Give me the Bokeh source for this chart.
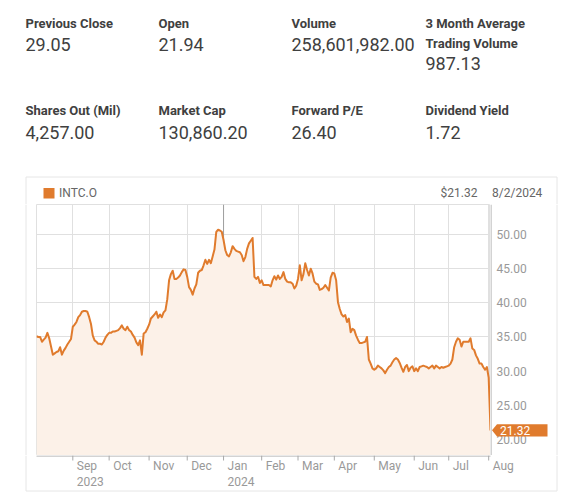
import textwrap
import pandas as pd
from bokeh.plotting import figure
from bokeh.layouts import column, row
from bokeh.models import Range1d, FixedTicker, Grid, Span, ColumnDataSource
from bokeh.core.properties import value
from bokeh.embed import file_html
from bokeh.resources import INLINE

# ---------------- data ----------------
symbol = "INTC.O"
first_day = "2023-08-04"
last_day = "2024-08-02"
market_holidays = ["2023-09-04", "2023-11-23", "2023-12-25", "2024-01-01", "2024-01-15",
                   "2024-02-19", "2024-03-29", "2024-05-27", "2024-06-19", "2024-07-04"]

close_prices = [
    35.1, 35.0, 35.0, 34.3, 34.6, 34.9, 35.6, 34.8, 33.6, 32.4,
    32.6, 32.8, 32.9, 33.5, 32.4, 33.0, 33.4, 33.9, 34.3, 34.7,
    36.5, 36.8, 37.2, 37.9, 38.2, 38.7, 38.8, 38.8, 38.7, 37.9,
    36.9, 35.2, 34.5, 34.3, 34.0, 34.0, 33.9, 34.3, 34.9, 35.3,
    35.6, 35.6, 35.8, 35.8, 35.9, 36.0, 36.3, 36.7, 36.2, 36.0,
    36.5, 36.0, 35.8, 35.3, 34.9, 34.2, 33.8, 34.5, 32.4, 35.5,
    35.7, 36.2, 36.8, 37.7, 38.0, 38.3, 38.7, 37.8, 38.3, 37.9,
    38.6, 38.9, 40.5, 43.3, 44.2, 44.7, 43.5, 43.5, 43.7, 44.0,
    44.5, 44.9, 44.8, 43.8, 42.3, 41.9, 41.2, 42.1, 42.7, 44.4,
    44.7, 44.8, 45.5, 46.3, 45.7, 46.3, 45.8, 46.8, 47.8, 50.4,
    50.7, 50.6, 50.4, 49.2, 47.7, 47.0, 46.8, 47.4, 48.3, 47.9,
    47.6, 47.5, 47.4, 47.0, 46.1, 46.7, 47.9, 48.7, 49.1, 49.5,
    43.8, 43.5, 43.8, 42.9, 43.3, 42.6, 42.6, 42.6, 42.6, 42.4,
    43.3, 43.9, 43.4, 44.0, 43.5, 43.8, 44.5, 43.5, 43.1, 43.0,
    43.0, 42.8, 42.1, 42.5, 43.5, 45.5, 43.3, 44.2, 45.8, 44.8,
    44.0, 45.0, 44.3, 43.1, 42.8, 42.7, 41.9, 42.0, 42.2, 42.6,
    42.2, 41.8, 43.7, 44.4, 44.3, 43.3, 40.1, 39.1, 38.3, 38.0,
    38.2, 37.2, 37.7, 35.7, 36.2, 36.0, 35.2, 34.6, 34.1, 34.1,
    34.2, 34.3, 35.0, 31.7, 31.1, 30.4, 30.2, 30.4, 30.8, 30.6,
    30.4, 30.1, 29.7, 30.2, 30.6, 30.8, 31.3, 31.7, 31.9, 31.7,
    31.2, 30.5, 29.9, 30.6, 30.9, 30.0, 30.5, 30.7, 30.0, 30.4,
    30.0, 30.6, 30.7, 30.8, 30.7, 30.6, 30.4, 30.6, 30.8, 30.4,
    30.8, 30.6, 30.4, 30.6, 30.5, 30.6, 30.7, 30.8, 31.1, 31.7,
    33.5, 34.3, 34.8, 34.6, 33.6, 34.3, 34.3, 34.3, 34.3, 34.8,
    33.3, 33.1, 32.3, 31.8, 31.1, 31.1, 30.6, 30.2, 30.6, 29.05,
    21.32,
]

stat_names = ["Previous Close", "Open", "Volume", "3 Month Average Trading Volume",
              "Shares Out (Mil)", "Market Cap", "Forward P/E", "Dividend Yield"]
stat_values = ["29.05", "21.94", "258,601,982.00", "987.13",
               "4,257.00", "130,860.20", "26.40", "1.72"]

price_ticks = [20, 25, 30, 35, 40, 45, 50]

# ---------------- derived ----------------
dates = pd.bdate_range(first_day, last_day, freq="C", holidays=market_holidays)
n = min(len(dates), len(close_prices))
dates = dates[:n]
prices = close_prices[:n]
day_index = list(range(n))
month_starts = [i for i in day_index if i > 0 and dates[i].month != dates[i - 1].month]
month_names = [dates[m].strftime("%b") for m in month_starts]
year_ticks = [m for k, m in enumerate(month_starts) if k == 0 or dates[m].month == 1]
year_names = [dates[m].strftime("%Y") for m in year_ticks]
jan_ticks = [m for m in month_starts if dates[m].month == 1]
last_val = prices[-1]
last_date = dates[-1]

# ---------------- style / layout ----------------
ORANGE = "#e07b2d"
FILL = "#fcf1e8"
GRID = "#e0e0e0"
AXIS = "#a8a8a8"
TICKTXT = "#999999"
DARK = "#404040"
HEAD = "#666666"
PANEL = "#e6e6e6"
FONT = "Roboto"

W = 560
FL, FT, FR, FB = 36, 204, 490, 455      # plot frame, page pixels
BOT_H = 40
Y0, Y1 = 17.64, 54.4
PANEL_L, PANEL_T, PANEL_R, PANEL_B = 25.5, 176.5, 556.5, 490.5


def blank(w, h, xr, yr):
    f = figure(width=w, height=h, x_range=xr, y_range=yr, output_backend="svg",
               toolbar_location=None, x_axis_location=None, y_axis_location=None,
               min_border=0, min_border_left=0, min_border_right=0,
               min_border_top=0, min_border_bottom=0)
    f.center = []
    f.outline_line_color = None
    f.background_fill_color = "white"
    f.border_fill_color = "white"
    return f


def txt(f, x, y, texts, size, color, style="normal", align="left", baseline="middle",
        x_offset=0):
    f.text(x=x, y=y, text=texts, text_font=value(FONT), text_font_size=value(size),
           text_font_style=value(style), text_color=color, text_align=value(align),
           text_baseline=value(baseline), x_offset=x_offset)


# ---------- top block: key stats + chart header ----------
top = blank(W, FT, Range1d(0, W), Range1d(FT, 0))
col_x = [25, 158, 291, 425]
name_mid = [23.2, 110.0]
value_mid = [43.7, 131.7]
line_step = 19.3
for k, (name, val) in enumerate(zip(stat_names, stat_values)):
    r, c = divmod(k, 4)
    lines = textwrap.wrap(name, 16)
    txt(top, [col_x[c]] * len(lines), [name_mid[r] + j * line_step for j in range(len(lines))],
        lines, "13px", DARK, style="bold")
    txt(top, [col_x[c]], [value_mid[r] + (len(lines) - 1) * line_step], [val], "18px", DARK)

top.quad(left=[43], right=[54], top=[187.5], bottom=[198], fill_color=ORANGE, line_color=None)
txt(top, [58.5], [192], [symbol], "12px", HEAD)
txt(top, [440], [192], [f"${last_val:.2f}"], "12px", HEAD)
txt(top, [491.5], [192], [f"{last_date.month}/{last_date.day}/{last_date.year}"], "12px", HEAD)
top.segment(x0=[PANEL_L, PANEL_L, PANEL_R], y0=[PANEL_T, PANEL_T, PANEL_T],
            x1=[PANEL_R, PANEL_L, PANEL_R], y1=[PANEL_T, FT, FT], line_color=PANEL, line_width=1)

# ---------- chart ----------
src = ColumnDataSource(dict(i=day_index, date=list(dates), price=prices))
chart = blank(FR - FL, FB - FT, Range1d(0, n - 1), Range1d(Y0, Y1))
chart.outline_line_color = GRID
chart.add_layout(Grid(dimension=0, ticker=FixedTicker(ticks=month_starts), grid_line_color=GRID))
chart.add_layout(Grid(dimension=1, ticker=FixedTicker(ticks=price_ticks), grid_line_color=GRID))
for m in jan_ticks:
    chart.add_layout(Span(location=m, dimension="height", line_color="#9e9e9e", line_width=1,
                          level="underlay"))
chart.varea(x="i", y1=Y0, y2="price", source=src, fill_color=FILL)
chart.line(x="i", y="price", source=src, line_color=ORANGE, line_width=2, line_join="round")

# ---------- left strip ----------
left = blank(FL, FB - FT, Range1d(0, FL), chart.y_range)
left.add_layout(Span(location=PANEL_L, dimension="height", line_color=PANEL, line_width=1))

# ---------- right strip: price scale + last price tag ----------
RW = W - FR
right = blank(RW, FB - FT, Range1d(0, RW), chart.y_range)
right.add_layout(Span(location=0.5, dimension="height", line_color=AXIS, line_width=1))
right.add_layout(Span(location=PANEL_R - FR, dimension="height", line_color=PANEL, line_width=1))
txt(right, [6] * len(price_ticks), price_ticks, [f"{t:.2f}" for t in price_ticks], "12px",
    TICKTXT)
ppu = (FB - FT) / (Y1 - Y0)
hh = 6.2 / ppu
right.patch(x=[1.5, 6.5, 57, 57, 6.5],
            y=[last_val, last_val + hh, last_val + hh, last_val - hh, last_val - hh],
            fill_color=ORANGE, line_color=None)
txt(right, [9.5], [last_val], [f"{last_val:.2f}"], "12px", "white")

# ---------- bottom strip: time axis ----------
ppx = (FR - FL) / (n - 1)


def px2i(px):
    return (px - FL) / ppx


bottom = blank(W, BOT_H, Range1d(px2i(0), px2i(W)), Range1d(BOT_H, 0))
bottom.segment(x0=[0], y0=[0.5], x1=[n - 1], y1=[0.5], line_color=AXIS, line_width=1)
bottom.segment(x0=month_starts, y0=[0] * len(month_starts), x1=month_starts,
               y1=[5] * len(month_starts), line_color=AXIS, line_width=1)
txt(bottom, month_starts, [465.7 - FB] * len(month_starts), month_names, "12px", TICKTXT,
    x_offset=4)
txt(bottom, year_ticks, [480.8 - FB] * len(year_ticks), year_names, "12px", TICKTXT,
    x_offset=4)
bottom.segment(x0=[px2i(PANEL_L), px2i(PANEL_L), px2i(PANEL_R)],
               y0=[PANEL_B - FB, 0, 0],
               x1=[px2i(PANEL_R), px2i(PANEL_L), px2i(PANEL_R)],
               y1=[PANEL_B - FB, PANEL_B - FB, PANEL_B - FB], line_color=PANEL, line_width=1)

layout = column(top, row(left, chart, right), bottom)
open("out.html", "w").write(file_html(layout, INLINE))
